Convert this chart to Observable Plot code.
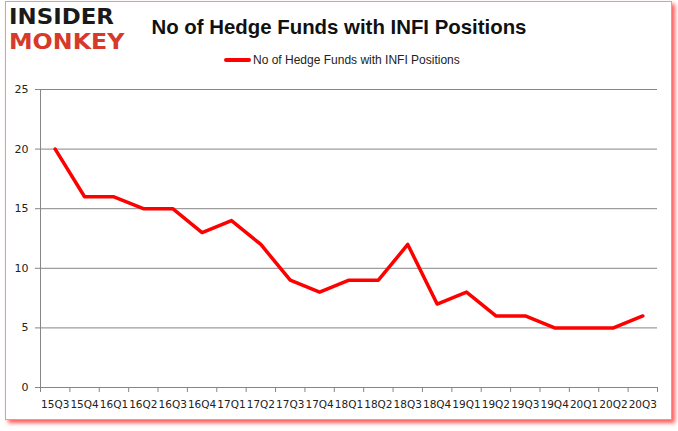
<!DOCTYPE html>
<html>
<head>
<meta charset="utf-8">
<script src="https://cdn.jsdelivr.net/npm/d3@7"></script>
<script src="https://cdn.jsdelivr.net/npm/@observablehq/plot@0.6"></script>
<style>
  body { margin: 0; background: #fff; }
  #wrap { position: relative; width: 678px; height: 431px; overflow: hidden; background:#fff; }
  #frame { position: absolute; left: 5px; top: 1px; width: 665px; height: 417px; border: 1px solid #b0b0b0; box-shadow: 3px 3px 4px rgba(255,40,40,0.75); background:#fff; }
  #logo { position: absolute; left: 9px; top: 5px; font-family: "DejaVu Sans", sans-serif; font-weight: 900; font-size: 21px; }
  #logo .a, #logo .b { display: block; line-height: 24.5px; height: 24.5px; white-space: nowrap; }
  #logo .a span { color: #1a1a1a; display: inline-block; transform: scaleX(1.09); transform-origin: left center; }
  #logo .b span { color: #d63a2a; display: inline-block; transform: scaleX(1.13); transform-origin: left center; }
  #title { position: absolute; left: 0; width: 678px; top: 16px; text-align: center; font-family: "Liberation Sans", Arial, sans-serif; font-weight: bold; font-size: 20.4px; color: #111; }
  #legend { position: absolute; top: 53px; left: 224px; font-family: "Liberation Sans", Arial, sans-serif; font-size: 12px; color: #222; display: flex; align-items: center; }
  #legend .sw { width: 27px; height: 4px; background: #ff0000; margin-right: 2px; border-radius: 2px; }
  #chart { position: absolute; left: 0; top: 80px; }
</style>
</head>
<body>
<div id="wrap">
  <div id="frame"></div>
  <div id="logo"><div class="a"><span>INSIDER</span></div><div class="b"><span>MONKEY</span></div></div>
  <div id="title">No of Hedge Funds with INFI Positions</div>
  <div id="legend"><div class="sw"></div><span>No of Hedge Funds with INFI Positions</span></div>
  <div id="chart"></div>
</div>
<script>
const quarters = ["15Q3","15Q4","16Q1","16Q2","16Q3","16Q4","17Q1","17Q2","17Q3","17Q4","18Q1","18Q2","18Q3","18Q4","19Q1","19Q2","19Q3","19Q4","20Q1","20Q2","20Q3"];
const funds = [20,16,16,15,15,13,14,12,9,8,9,9,12,7,8,6,6,5,5,5,6];
const yTicks = [0,5,10,15,20,25];

const data = quarters.map((q, i) => ({i, q, v: funds[i]}));
const bounds = d3.range(quarters.length + 1).map(k => k - 0.5);

const chart = Plot.plot({
  width: 678,
  height: 340,
  marginTop: 9,
  marginBottom: 33,
  marginLeft: 40,
  marginRight: 21,
  style: {fontFamily: "DejaVu Sans, sans-serif", fontSize: "10.5px", color: "#222", background: "transparent", overflow: "visible"},
  x: {type: "linear", domain: [-0.5, quarters.length - 0.5]},
  y: {domain: [0, 25]},
  marks: [
    Plot.gridY(yTicks, {stroke: "#868686", strokeOpacity: 1}),
    Plot.ruleX([-0.5], {stroke: "#868686"}),
    Plot.axisY(yTicks, {tickSize: 5, tickPadding: 7, stroke: "#868686", label: null, fontSize: 11}),
    Plot.axisX(bounds, {tickSize: 5, tickFormat: () => "", stroke: "#868686", label: null}),
    Plot.axisX(d3.range(quarters.length), {tickSize: 0, tickPadding: 13, tickFormat: i => quarters[i], label: null}),
    Plot.line(data, {x: "i", y: "v", stroke: "#ff0000", strokeWidth: 3.5})
  ]
});
document.getElementById("chart").appendChild(chart);
</script>
</body>
</html>
